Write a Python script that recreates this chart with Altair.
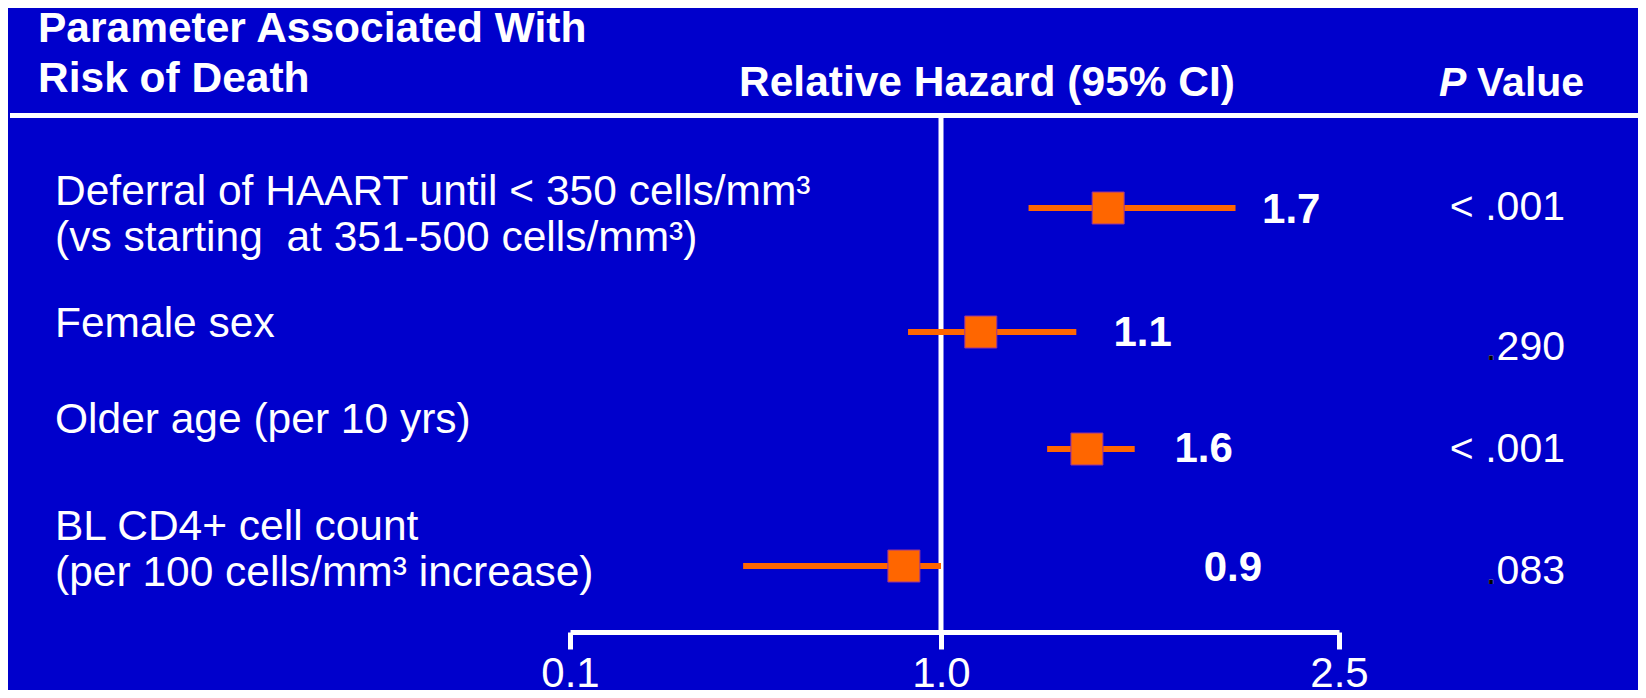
import altair as alt
import pandas as pd

# ---- data ----
rows = [0, 1, 2, 3]
row_labels = [
    "Deferral of HAART until < 350 cells/mm³\n(vs starting \u00a0at 351-500 cells/mm³)",
    "Female sex",
    "Older age (per 10 yrs)",
    "BL CD4+ cell count\n(per 100 cells/mm³ increase)",
]
hr_text = ["1.7", "1.1", "1.6", "0.9"]
hr_point = [1.63, 1.15, 1.55, 0.91]
ci_low = [1.33, 0.92, 1.40, 0.52]
ci_high = [2.11, 1.51, 1.73, 1.00]
hr_label_at = [2.21, 1.65, 1.88, 1.99]
p_text = ["< .001", ".290", "< .001", ".083"]
tick_values = [0.1, 1.0, 2.5]

FONT = "Liberation Sans"
BG = "#0000CC"
ORANGE = "#FF6600"
W, H = 1630, 682
PFS = 41  # p-value font size

df = pd.DataFrame({
    "row": rows, "label": row_labels, "hr": hr_point, "lo": ci_low, "hi": ci_high,
    "hr_text": hr_text, "hr_at": hr_label_at, "p": p_text,
})
dotted = [(r, p) for r, p in zip(rows, p_text) if p.startswith(".")]
dots = pd.DataFrame({"row": [r for r, _ in dotted], "dot": ["." for _ in dotted]})
one = pd.DataFrame({"x": [1.0]})

xscale = alt.Scale(domain=tick_values, range=[562, 933, 1331], zero=False, nice=False)
row_scale = alt.Scale(domain=rows, range=[200, 324, 441, 558], zero=False, nice=False)
label_scale = alt.Scale(domain=rows, range=[197, 329, 425, 532], zero=False, nice=False)
hr_scale = alt.Scale(domain=rows, range=[215, 338, 454, 573], zero=False, nice=False)
p_scale = alt.Scale(domain=rows, range=[212, 352, 454, 576], zero=False, nice=False)

xaxis = alt.Axis(
    values=tick_values, format=".1f", title=None, grid=False,
    domainColor="white", domainWidth=5, domainCap="butt",
    tickColor="white", tickWidth=5, tickSize=17, tickCap="butt",
    labelColor="white", labelFont=FONT, labelFontSize=42, labelPadding=4,
    labelBaseline="top", labelFlush=False, labelOverlap=False, offset=624 - H,
)

ci = alt.Chart(df).mark_rule(color=ORANGE, strokeWidth=6, strokeCap="butt").encode(
    x=alt.X("lo:Q", scale=xscale, axis=xaxis),
    x2="hi:Q",
    y=alt.Y("row:Q", scale=row_scale, axis=None),
)

squares = alt.Chart(df).mark_square(
    size=1024, filled=True, fill=ORANGE, opacity=1, stroke="#993399", strokeWidth=1
).encode(
    x=alt.X("hr:Q", scale=xscale),
    y=alt.Y("row:Q", scale=row_scale, axis=None),
)

vline = alt.Chart(one).mark_rule(color="white", strokeWidth=5).encode(
    x=alt.X("x:Q", scale=xscale), y=alt.value(110), y2=alt.value(624)
)

hline = alt.Chart(one).mark_rule(color="white", strokeWidth=5).encode(
    x=alt.value(2), x2=alt.value(W), y=alt.value(107.5)
)

hr_labels = alt.Chart(df).mark_text(
    align="left", baseline="alphabetic", font=FONT, fontSize=42,
    fontWeight="bold", color="white"
).encode(
    x=alt.X("hr_at:Q", scale=xscale),
    y=alt.Y("row:Q", scale=hr_scale, axis=None),
    text="hr_text:N",
)

p_labels = alt.Chart(df).mark_text(
    align="right", baseline="alphabetic", font=FONT, fontSize=PFS, color="white"
).encode(
    x=alt.value(1557),
    y=alt.Y("row:Q", scale=p_scale, axis=None),
    text="p:N",
)

# the leading period of ".290" and ".083" is black in the reference
p_dots = alt.Chart(dots).mark_text(
    align="right", baseline="alphabetic", font=FONT, fontSize=PFS, color="black",
    dx=-3 * 0.5562 * PFS,
).encode(
    x=alt.value(1557),
    y=alt.Y("row:Q", scale=p_scale, axis=None),
    text="dot:N",
)

names = alt.Chart(df).mark_text(
    align="left", baseline="alphabetic", lineBreak="\n", lineHeight=46,
    font=FONT, fontSize=42.5, color="white"
).encode(
    x=alt.value(47),
    y=alt.Y("row:Q", scale=label_scale, axis=None),
    text="label:N",
)


def header(txt, x, y, size=42.5, italic=False):
    return alt.Chart(one).mark_text(
        align="left", baseline="alphabetic", font=FONT, fontSize=size,
        fontWeight="bold", fontStyle="italic" if italic else "normal", color="white"
    ).encode(x=alt.value(x), y=alt.value(y), text=alt.value(txt))


headers = [
    header("Parameter Associated With", 30, 34, 42.5),
    header("Risk of Death", 30, 84, 42.5),
    header("Relative Hazard (95% CI)", 731, 88, 42.5),
    header("P", 1431, 88, 41, italic=True),
    header("Value", 1469, 88, 41),
]

chart = alt.layer(
    hline, vline, ci, squares, hr_labels, p_labels, p_dots, names, *headers
).resolve_scale(y="independent").properties(
    width=W, height=H, background=BG, padding=0,
    autosize=alt.AutoSizeParams(type="none"),
).configure_view(stroke=None)

chart.save("out.html", embed_options={"renderer": "svg", "actions": False})
